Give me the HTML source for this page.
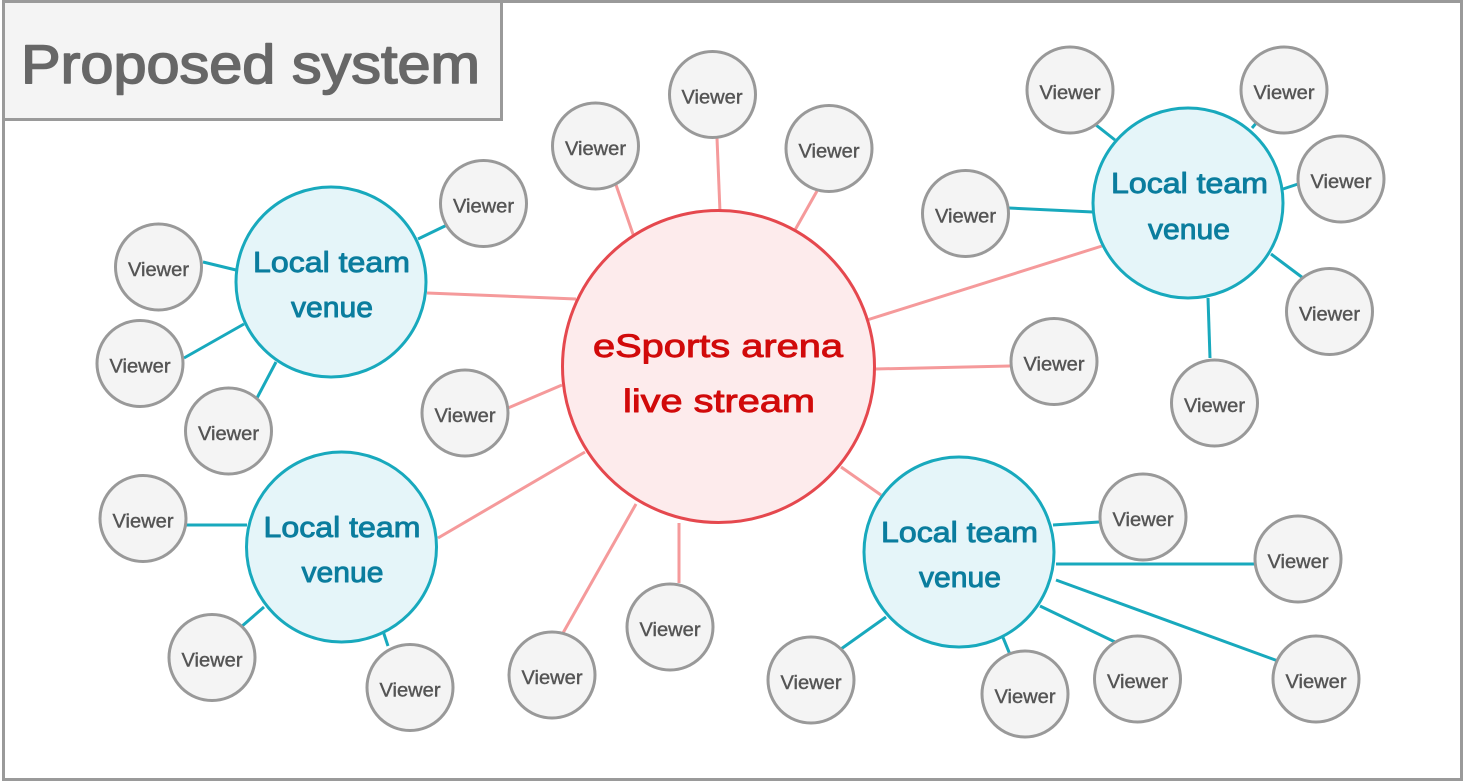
<!DOCTYPE html>
<html>
<head>
<meta charset="utf-8">
<style>
  html, body { margin: 0; padding: 0; background: #ffffff; }
  svg { display: block; }
  text { font-family: "Liberation Sans", "DejaVu Sans", sans-serif; }
</style>
</head>
<body>
<svg width="1465" height="782" viewBox="0 0 1465 782" xmlns="http://www.w3.org/2000/svg">
  <rect x="0" y="0" width="1465" height="782" fill="#ffffff"/>
  <!-- outer frame -->
  <rect x="3.5" y="1.5" width="1458" height="778" fill="none" stroke="#9a9a9a" stroke-width="3"/>
  <!-- title box -->
  <rect x="3.5" y="1.5" width="498" height="118" fill="#f4f4f4" stroke="#9a9a9a" stroke-width="3"/>
  <text x="21" y="83" font-size="55" fill="#676767" stroke="#676767" stroke-width="1.6" stroke-linejoin="round" textLength="459" lengthAdjust="spacingAndGlyphs">Proposed system</text>

  <!-- pink connectors (central) -->
  <g stroke="#f59a9b" stroke-width="3" stroke-linecap="butt">
    <line x1="615" y1="182" x2="635" y2="240"/>
    <line x1="717" y1="138" x2="720" y2="212"/>
    <line x1="817" y1="191" x2="795" y2="230"/>
    <line x1="427" y1="293" x2="576" y2="299"/>
    <line x1="508" y1="408" x2="562" y2="385"/>
    <line x1="438" y1="538" x2="585" y2="452"/>
    <line x1="563" y1="633" x2="636" y2="504"/>
    <line x1="679" y1="583" x2="679" y2="523"/>
    <line x1="841" y1="467" x2="881" y2="495"/>
    <line x1="867" y1="320" x2="1102" y2="246"/>
    <line x1="875" y1="369" x2="1010" y2="366"/>
  </g>

  <!-- cyan connectors -->
  <g stroke="#18a9bd" stroke-width="3" stroke-linecap="butt">
    <line x1="418" y1="239" x2="447" y2="225"/>
    <line x1="203" y1="262" x2="236" y2="270"/>
    <line x1="184" y1="358" x2="244" y2="324"/>
    <line x1="257" y1="398" x2="276" y2="362"/>
    <line x1="184" y1="525" x2="247" y2="525"/>
    <line x1="241" y1="627" x2="264" y2="607"/>
    <line x1="388" y1="646" x2="383" y2="631"/>
    <line x1="1053" y1="525" x2="1099" y2="522"/>
    <line x1="1056" y1="564" x2="1255" y2="564"/>
    <line x1="1056" y1="580" x2="1278" y2="661"/>
    <line x1="1040" y1="606" x2="1115" y2="642"/>
    <line x1="1002" y1="635" x2="1011" y2="657"/>
    <line x1="841" y1="649" x2="886" y2="617"/>
    <line x1="1252" y1="128" x2="1258" y2="121"/>
    <line x1="1283" y1="189" x2="1298" y2="184"/>
    <line x1="1271" y1="254" x2="1303" y2="278"/>
    <line x1="1096" y1="125" x2="1115" y2="140"/>
    <line x1="1208" y1="298" x2="1210" y2="358"/>
    <line x1="1009" y1="208" x2="1093" y2="212"/>
  </g>

  <!-- central node -->
  <circle cx="718.5" cy="366.5" r="156" fill="#fdebec" stroke="#e5484e" stroke-width="3"/>
  <g fill="#d10a0a" stroke="#d10a0a" stroke-width="0.9" stroke-linejoin="round" font-size="32" text-anchor="middle">
    <text x="718" y="357" textLength="250" lengthAdjust="spacingAndGlyphs">eSports arena</text>
    <text x="719" y="412" textLength="192" lengthAdjust="spacingAndGlyphs">live stream</text>
  </g>

  <!-- venues -->
  <g fill="#e5f5f9" stroke="#18a9bd" stroke-width="3">
    <circle cx="331" cy="282" r="95"/>
    <circle cx="341.5" cy="547" r="95"/>
    <circle cx="959" cy="552" r="95"/>
    <circle cx="1188" cy="203" r="95"/>
  </g>
  <g fill="#0b7d9e" stroke="#0b7d9e" stroke-width="0.9" stroke-linejoin="round" font-size="29" text-anchor="middle">
    <text x="331.5" y="272" textLength="157" lengthAdjust="spacingAndGlyphs">Local team</text>
    <text x="332" y="317" textLength="82" lengthAdjust="spacingAndGlyphs">venue</text>
    <text x="342" y="537" textLength="157" lengthAdjust="spacingAndGlyphs">Local team</text>
    <text x="342.5" y="582" textLength="82" lengthAdjust="spacingAndGlyphs">venue</text>
    <text x="959.5" y="542" textLength="157" lengthAdjust="spacingAndGlyphs">Local team</text>
    <text x="960" y="587" textLength="82" lengthAdjust="spacingAndGlyphs">venue</text>
    <text x="1189.5" y="193" textLength="157" lengthAdjust="spacingAndGlyphs">Local team</text>
    <text x="1189" y="239" textLength="82" lengthAdjust="spacingAndGlyphs">venue</text>
  </g>

  <!-- viewers -->
  <g fill="#f4f4f4" stroke="#999999" stroke-width="3">
    <circle cx="1070" cy="90" r="43"/>
    <circle cx="1284" cy="90" r="43"/>
    <circle cx="1341" cy="179" r="43"/>
    <circle cx="1329.5" cy="311.5" r="43"/>
    <circle cx="1214.5" cy="403" r="43"/>
    <circle cx="965.5" cy="213.5" r="43"/>
    <circle cx="1054" cy="361.5" r="43"/>
    <circle cx="712.5" cy="94.5" r="43"/>
    <circle cx="595.5" cy="146" r="43"/>
    <circle cx="829" cy="148.5" r="43"/>
    <circle cx="483.5" cy="203.5" r="43"/>
    <circle cx="158.5" cy="267" r="43"/>
    <circle cx="140" cy="363.5" r="43"/>
    <circle cx="228.5" cy="431" r="43"/>
    <circle cx="465" cy="413" r="43"/>
    <circle cx="143" cy="518.5" r="43"/>
    <circle cx="212" cy="657.5" r="43"/>
    <circle cx="410" cy="687.5" r="43"/>
    <circle cx="552" cy="675" r="43"/>
    <circle cx="670" cy="627" r="43"/>
    <circle cx="1143" cy="517" r="43"/>
    <circle cx="1298" cy="559" r="43"/>
    <circle cx="1316" cy="679" r="43"/>
    <circle cx="1137.5" cy="679" r="43"/>
    <circle cx="1025" cy="694" r="43"/>
    <circle cx="811" cy="680" r="43"/>
  </g>
  <g fill="#555555" stroke="#555555" stroke-width="0.4" font-size="19" text-anchor="middle">
    <text x="1070" y="99" textLength="61" lengthAdjust="spacingAndGlyphs">Viewer</text>
    <text x="1284" y="99" textLength="61" lengthAdjust="spacingAndGlyphs">Viewer</text>
    <text x="1341" y="188" textLength="61" lengthAdjust="spacingAndGlyphs">Viewer</text>
    <text x="1329.5" y="320.5" textLength="61" lengthAdjust="spacingAndGlyphs">Viewer</text>
    <text x="1214.5" y="412" textLength="61" lengthAdjust="spacingAndGlyphs">Viewer</text>
    <text x="965.5" y="222.5" textLength="61" lengthAdjust="spacingAndGlyphs">Viewer</text>
    <text x="1054" y="370.5" textLength="61" lengthAdjust="spacingAndGlyphs">Viewer</text>
    <text x="712" y="103.5" textLength="61" lengthAdjust="spacingAndGlyphs">Viewer</text>
    <text x="595.5" y="155" textLength="61" lengthAdjust="spacingAndGlyphs">Viewer</text>
    <text x="829" y="157.5" textLength="61" lengthAdjust="spacingAndGlyphs">Viewer</text>
    <text x="483.5" y="212.5" textLength="61" lengthAdjust="spacingAndGlyphs">Viewer</text>
    <text x="158.5" y="276" textLength="61" lengthAdjust="spacingAndGlyphs">Viewer</text>
    <text x="140" y="372.5" textLength="61" lengthAdjust="spacingAndGlyphs">Viewer</text>
    <text x="228.5" y="440" textLength="61" lengthAdjust="spacingAndGlyphs">Viewer</text>
    <text x="465" y="422" textLength="61" lengthAdjust="spacingAndGlyphs">Viewer</text>
    <text x="143" y="527.5" textLength="61" lengthAdjust="spacingAndGlyphs">Viewer</text>
    <text x="212" y="666.5" textLength="61" lengthAdjust="spacingAndGlyphs">Viewer</text>
    <text x="410" y="696.5" textLength="61" lengthAdjust="spacingAndGlyphs">Viewer</text>
    <text x="552" y="684" textLength="61" lengthAdjust="spacingAndGlyphs">Viewer</text>
    <text x="670" y="636" textLength="61" lengthAdjust="spacingAndGlyphs">Viewer</text>
    <text x="1143" y="526" textLength="61" lengthAdjust="spacingAndGlyphs">Viewer</text>
    <text x="1298" y="568" textLength="61" lengthAdjust="spacingAndGlyphs">Viewer</text>
    <text x="1316" y="688" textLength="61" lengthAdjust="spacingAndGlyphs">Viewer</text>
    <text x="1137.5" y="688" textLength="61" lengthAdjust="spacingAndGlyphs">Viewer</text>
    <text x="1025" y="703" textLength="61" lengthAdjust="spacingAndGlyphs">Viewer</text>
    <text x="811" y="689" textLength="61" lengthAdjust="spacingAndGlyphs">Viewer</text>
  </g>
</svg>
</body>
</html>
